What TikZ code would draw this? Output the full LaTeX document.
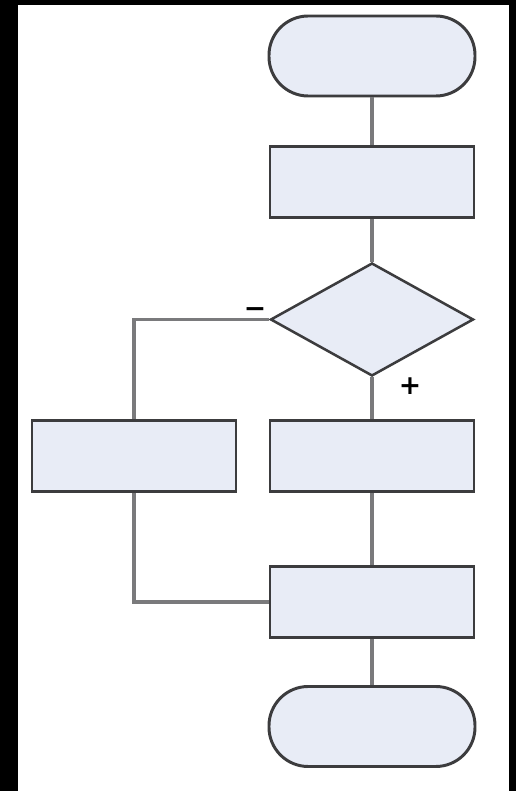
\documentclass[tikz,border=0pt]{standalone}
\usepackage{fontspec}
\newfontfamily\signfont{DejaVu Sans}
\usepackage{tikz}
\usetikzlibrary{positioning,shapes.geometric}
\definecolor{FcEdge}{RGB}{60,60,62}
\definecolor{FcLine}{RGB}{122,122,124}
\definecolor{FcFill}{RGB}{232,236,246}
\tikzset{
  fc/terminal/.style={
    draw=FcEdge,
    line width=2.1pt,
    rounded corners=0.98cm,
    fill=FcFill,
    minimum width=5.15cm,
    minimum height=2.0cm
  },
  fc/box/.style={
    draw=FcEdge,
    line width=2.1pt,
    fill=FcFill,
    minimum width=5.1cm,
    minimum height=1.78cm
  },
  fc/decision/.style={
    diamond,
    draw=FcEdge,
    line width=1.8pt,
    fill=FcFill,
    inner sep=0pt,
    minimum width=5.075cm,
    minimum height=2.825cm
  },
  fc/line/.style={line width=2.8pt, draw=FcLine},
  fc/sign/.style={font=\signfont\bfseries\fontsize{19}{19}\selectfont, text=black, inner sep=0pt}
}
\begin{document}
\begin{tikzpicture}[x=1cm,y=1cm]
  \useasboundingbox (0,0) rectangle (12.9,19.775);
  \fill[black] (0,0) rectangle (12.9,19.775);
  \fill[white] (0.45,0) rectangle (12.725,19.65);

  \node[fc/terminal] (start) at (9.3,18.375) {};
  \node[fc/box] (prep) at (9.3,15.225) {};
  \node[fc/decision] (test) at (9.3,11.7875) {};
  \node[fc/box] (no) at (3.35,8.375) {};
  \node[fc/box] (yes) at (9.3,8.375) {};
  \node[fc/box] (merge) at (9.3,4.725) {};
  \node[fc/terminal] (stop) at (9.3,1.6125) {};

  \draw[fc/line] (start) -- (prep);
  \draw[fc/line] (prep) -- (test);
  \draw[fc/line] (test.west) -| (no.north);
  \draw[fc/line] (test.south) -- (yes.north);
  \draw[fc/line] (no.south) |- (merge.west);
  \draw[fc/line] (yes) -- (merge);
  \draw[fc/line] (merge) -- (stop);

  \node[fc/sign] (minus) at (6.375,11.95) {−};
  \node[fc/sign] (plus) at (10.25,10.12) {+};
\end{tikzpicture}
\end{document}
